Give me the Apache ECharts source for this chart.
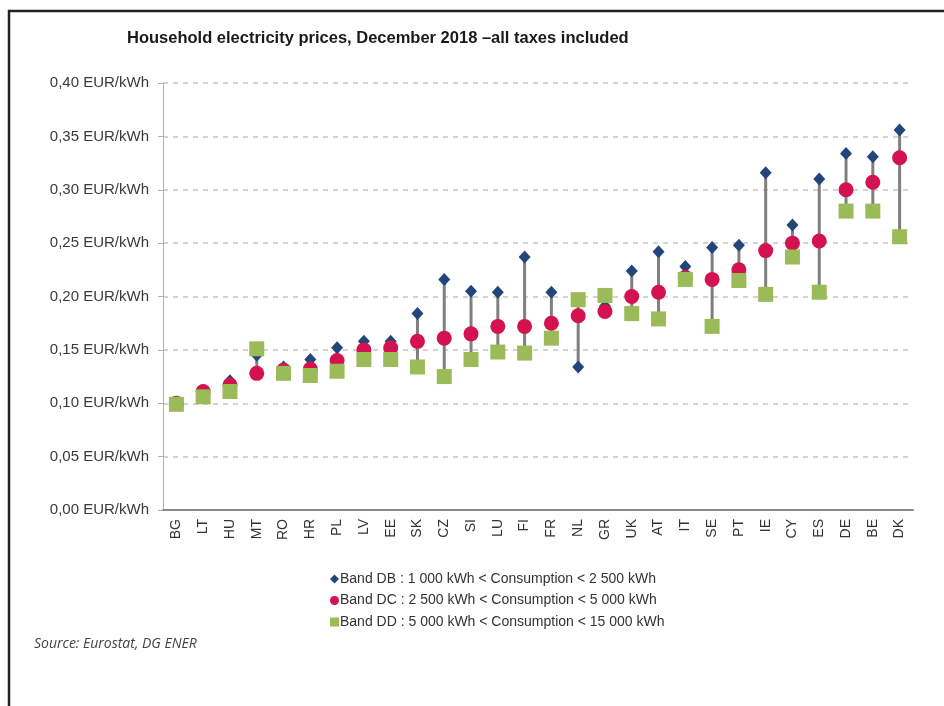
<!DOCTYPE html>
<html>
<head>
<meta charset="utf-8">
<script src="https://cdn.jsdelivr.net/npm/echarts@6/dist/echarts.min.js"></script>
<style>
  html, body { margin: 0; padding: 0; background: #fff; }
  #chart { width: 944px; height: 706px; }
</style>
</head>
<body>
<div id="chart"></div>
<script>
// Household electricity prices by consumption band, EUR/kWh
const countries = ['BG','LT','HU','MT','RO','HR','PL','LV','EE','SK','CZ','SI','LU','FI',
                   'FR','NL','GR','UK','AT','IT','SE','PT','IE','CY','ES','DE','BE','DK'];

const bandDB = [0.100,0.112,0.121,0.145,0.134,0.141,0.152,0.158,0.158,0.184,0.216,0.205,0.204,0.237,
                0.204,0.134,0.191,0.224,0.242,0.228,0.246,0.248,0.316,0.267,0.310,0.334,0.331,0.356];
const bandDC = [0.100,0.111,0.117,0.128,0.131,0.132,0.140,0.150,0.152,0.158,0.161,0.165,0.172,0.172,
                0.175,0.182,0.186,0.200,0.204,0.218,0.216,0.225,0.243,0.250,0.252,0.300,0.307,0.330];
const bandDD = [0.099,0.106,0.111,0.151,0.128,0.126,0.130,0.141,0.141,0.134,0.125,0.141,0.148,0.147,
                0.161,0.197,0.201,0.184,0.179,0.216,0.172,0.215,0.202,0.237,0.204,0.280,0.280,0.256];

const yTicks = [0, 0.05, 0.10, 0.15, 0.20, 0.25, 0.30, 0.35, 0.40];

const legendNames = [
  'Band DB : 1 000 kWh < Consumption < 2 500 kWh',
  'Band DC : 2 500 kWh < Consumption < 5 000 kWh',
  'Band DD : 5 000 kWh < Consumption < 15 000 kWh'
];

const colDB = '#22467a';
const colDC = '#d3124f';
const colDD = '#9bbb59';

// vertical range bar per country: lowest to highest band price
const ranges = countries.map((c, i) => {
  const v = [bandDB[i], bandDC[i], bandDD[i]];
  return [i, Math.min(...v), Math.max(...v)];
});

const chart = echarts.init(document.getElementById('chart'));

chart.setOption({
  animation: false,
  backgroundColor: '#ffffff',
  title: {
    text: 'Household electricity prices, December 2018 \u2013all taxes included',
    left: 122, top: 25,
    textStyle: { fontFamily: 'Liberation Sans', fontWeight: 'bold', fontSize: 16.5, color: '#1a1a1a' }
  },
  grid: { left: 163, right: 31, top: 83, bottom: 196, containLabel: false },
  xAxis: {
    type: 'category',
    data: countries,
    boundaryGap: true,
    axisLine: { lineStyle: { color: '#8a8a8a', width: 2 } },
    axisTick: { show: false },
    axisLabel: { rotate: 90, margin: 9, fontSize: 14, color: '#333', fontFamily: 'Liberation Sans' },
    splitLine: { show: false }
  },
  yAxis: {
    type: 'value',
    min: 0, max: 0.40, interval: 0.05,
    axisLine: { show: true, lineStyle: { color: '#b0b0b0', width: 1 } },
    axisTick: { show: true, length: 5, lineStyle: { color: '#b0b0b0' } },
    axisLabel: {
      margin: 14, fontSize: 15, color: '#3a3a3a', fontFamily: 'Liberation Sans',
      formatter: v => {
        const t = yTicks.find(x => Math.abs(x - v) < 1e-9);
        return (t !== undefined ? t : v).toFixed(2).replace('.', ',') + ' EUR/kWh';
      }
    },
    splitLine: { show: true, lineStyle: { color: '#c4c4c4', type: [5, 5], width: 1.5 } }
  },
  legend: {
    orient: 'vertical',
    left: 325, top: 567,
    itemGap: 7.5, itemWidth: 9, itemHeight: 9,
    textStyle: { fontSize: 14, color: '#333', fontFamily: 'Liberation Sans', padding: [0, 0, 0, -4] },
    data: [
      { name: legendNames[0], icon: 'diamond', itemStyle: { color: colDB } },
      { name: legendNames[1], icon: 'circle', itemStyle: { color: colDC } },
      { name: legendNames[2], icon: 'rect', itemStyle: { color: colDD } }
    ],
    selectedMode: false
  },
  graphic: [
    { type: 'line', shape: { x1: 8, y1: 11, x2: 944, y2: 11 }, style: { stroke: '#222', lineWidth: 2.5 } },
    { type: 'line', shape: { x1: 9, y1: 10, x2: 9, y2: 706 }, style: { stroke: '#222', lineWidth: 2.5 } },
    { type: 'text', left: 34, top: 637,
      style: { text: 'Source: Eurostat, DG ENER', font: 'italic 14px "Open Sans", "Liberation Sans"', fill: '#444' } }
  ],
  series: [
    {
      type: 'custom',
      name: 'range',
      data: ranges,
      z: 1,
      renderItem: (params, api) => {
        const p1 = api.coord([api.value(0), api.value(1)]);
        const p2 = api.coord([api.value(0), api.value(2)]);
        return {
          type: 'line',
          shape: { x1: p1[0], y1: p1[1], x2: p2[0], y2: p2[1] },
          style: { stroke: '#7f7f7f', lineWidth: 3 }
        };
      },
      silent: true
    },
    {
      type: 'scatter', name: legendNames[0], data: bandDB,
      symbol: 'diamond', symbolSize: [12, 13], z: 2,
      itemStyle: { color: colDB, opacity: 1 }
    },
    {
      type: 'scatter', name: legendNames[1], data: bandDC,
      symbol: 'circle', symbolSize: 15, z: 3,
      itemStyle: { color: colDC, opacity: 1 }
    },
    {
      type: 'scatter', name: legendNames[2], data: bandDD,
      symbol: 'rect', symbolSize: 15, z: 4,
      itemStyle: { color: colDD, opacity: 1 }
    }
  ]
});
</script>
</body>
</html>
